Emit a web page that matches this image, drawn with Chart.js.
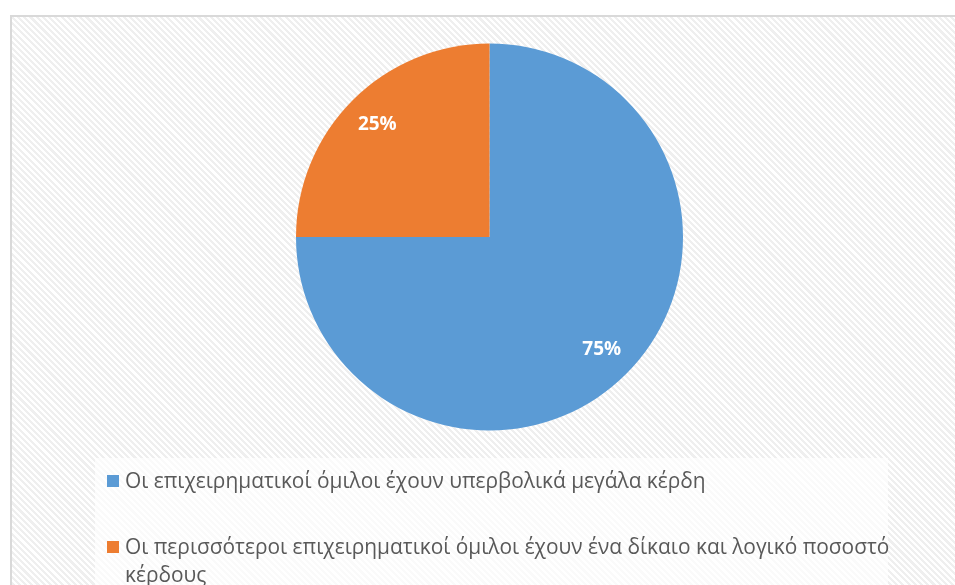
<!DOCTYPE html>
<html lang="el">
<head>
<meta charset="utf-8">
<script src="https://cdn.jsdelivr.net/npm/chart.js@4/dist/chart.umd.min.js"></script>
<style>
  html, body { margin: 0; padding: 0; background: #fff; width: 955px; height: 585px; overflow: hidden; }
  #frame {
    position: absolute; left: 10px; top: 15px; width: 960px; height: 600px;
    box-sizing: border-box; border: 2px solid #d9d9d9;
    background: repeating-linear-gradient(45deg, #ffffff 0px, #ffffff 2.2px, #efefef 2.2px, #efefef 4.4px);
  }
  #chart { position: absolute; left: 0; top: 0; }
  #legend {
    position: absolute; left: 95px; top: 458px; width: 793px; height: 140px;
    background: rgba(255,255,255,0.65);
    font-family: "Open Sans", "Noto Sans", sans-serif; font-size: 20.9px; color: #595959;
  }
  .item { position: absolute; left: 30px; width: 780px; line-height: 28px; white-space: normal; }
  .box { position: absolute; left: -18px; top: 9px; width: 12px; height: 12px; }
</style>
</head>
<body>
<div id="frame"></div>
<canvas id="chart" width="955" height="585"></canvas>
<div id="legend"></div>
<script>
// Shares of respondents per answer
const categories = [
  'Οι επιχειρηματικοί όμιλοι έχουν υπερβολικά μεγάλα κέρδη',
  'Οι περισσότεροι επιχειρηματικοί όμιλοι έχουν ένα δίκαιο και λογικό ποσοστό κέρδους'
];
const shares = [75, 25];
const sliceColors = ['#5B9BD5', '#ED7D31'];

// Percent labels drawn inside each slice
const sliceLabels = {
  id: 'sliceLabels',
  afterDatasetsDraw(chart) {
    const ctx = chart.ctx;
    const meta = chart.getDatasetMeta(0);
    const data = chart.data.datasets[0].data;
    const total = data.reduce((a, b) => a + b, 0);
    ctx.save();
    ctx.font = 'bold 19px "Open Sans", "Noto Sans", sans-serif';
    ctx.fillStyle = '#ffffff';
    ctx.textAlign = 'center';
    ctx.textBaseline = 'middle';
    meta.data.forEach((arc, i) => {
      const p = arc.getProps(['x', 'y', 'startAngle', 'endAngle', 'outerRadius'], true);
      const mid = (p.startAngle + p.endAngle) / 2;
      const r = p.outerRadius * 0.82;
      const pct = Math.round(data[i] / total * 100) + '%';
      ctx.fillText(pct, p.x + Math.cos(mid) * r, p.y + Math.sin(mid) * r);
    });
    ctx.restore();
  }
};

// Legend built from the chart's own labels and colours
const htmlLegend = {
  id: 'htmlLegend',
  afterUpdate(chart) {
    const el = document.getElementById('legend');
    el.innerHTML = '';
    const tops = [8, 74];
    chart.options.plugins.legend.labels.generateLabels(chart).forEach((item, i) => {
      const div = document.createElement('div');
      div.className = 'item';
      div.style.top = tops[i] + 'px';
      const box = document.createElement('span');
      box.className = 'box';
      box.style.background = item.fillStyle;
      div.appendChild(box);
      div.appendChild(document.createTextNode(item.text));
      el.appendChild(div);
    });
  }
};

new Chart(document.getElementById('chart'), {
  type: 'pie',
  data: {
    labels: categories,
    datasets: [{ data: shares, backgroundColor: sliceColors, borderWidth: 0 }]
  },
  options: {
    responsive: false,
    animation: false,
    layout: { padding: { left: 296, right: 272, top: 43.5, bottom: 154.5 } },
    plugins: {
      legend: { display: false },
      tooltip: { enabled: false }
    }
  },
  plugins: [sliceLabels, htmlLegend]
});
</script>
</body>
</html>
